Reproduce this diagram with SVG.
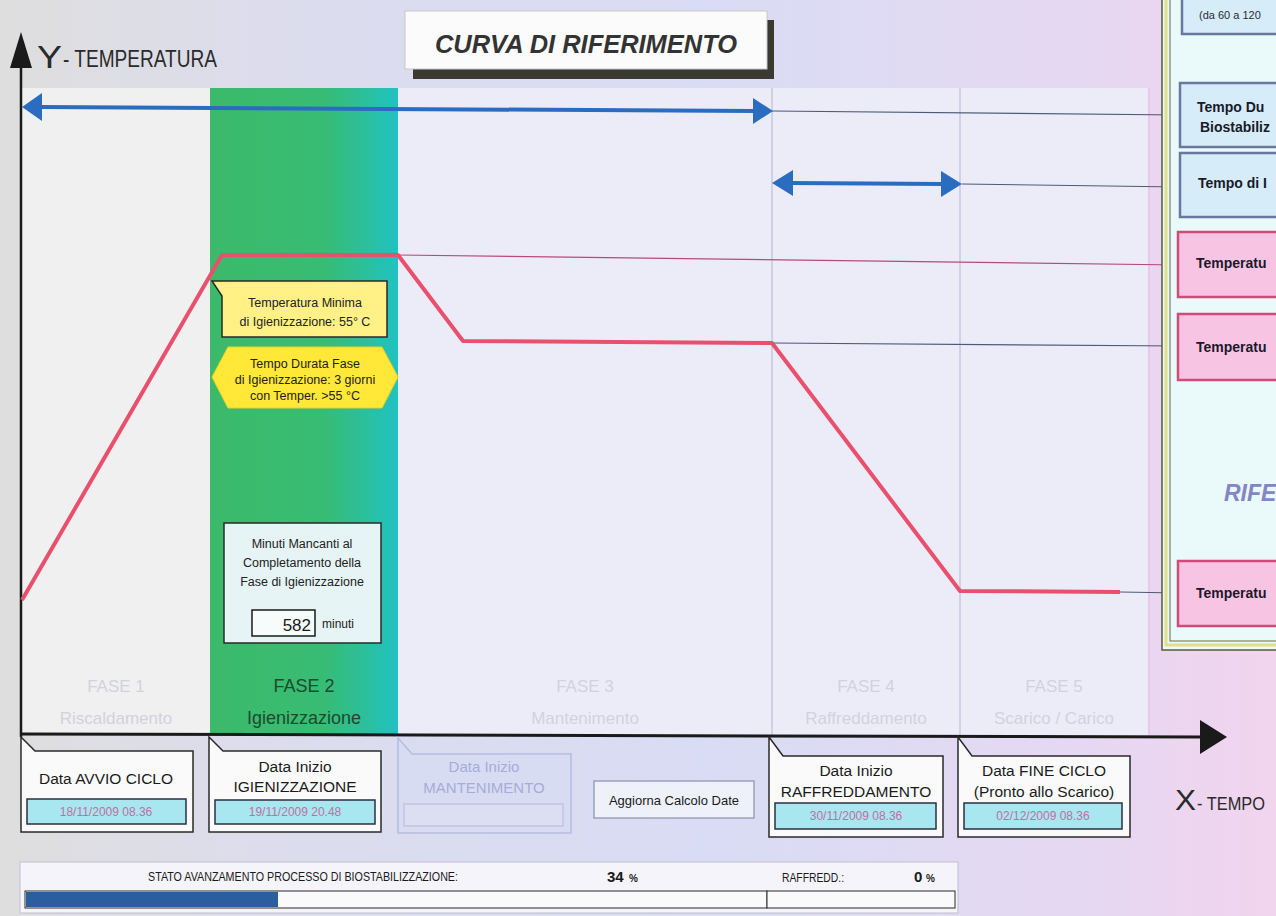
<svg xmlns="http://www.w3.org/2000/svg" width="1276" height="916" viewBox="0 0 1276 916">
<defs>
<linearGradient id="bg" x1="0" y1="0" x2="1" y2="0">
<stop offset="0" stop-color="#dedede"/>
<stop offset="0.2" stop-color="#dcdcec"/>
<stop offset="0.55" stop-color="#d8dcf4"/>
<stop offset="0.85" stop-color="#e6d8f2"/>
<stop offset="1" stop-color="#f2d4ee"/>
</linearGradient>
<linearGradient id="green" x1="0" y1="0" x2="1" y2="0">
<stop offset="0" stop-color="#3cba6a"/>
<stop offset="0.6" stop-color="#38bc74"/>
<stop offset="0.82" stop-color="#2cbf9a"/>
<stop offset="1" stop-color="#1fc2c4"/>
</linearGradient>
<style>
text{font-family:"Liberation Sans",Arial,sans-serif}
.ph{font-size:17px;text-anchor:middle;fill:#d2d2de}
.ph2{font-size:18px;text-anchor:middle;fill:#1c4a2c}
.bx{fill:#fafafa;stroke:#2a2a2a;stroke-width:1.5}
.bxf{fill:#d8dcf2;stroke:#b8bce0;stroke-width:1.5}
.bt{font-size:15.5px;text-anchor:middle;fill:#1a1a1a}
.btf{font-size:15px;text-anchor:middle;fill:#a6acd8}
.df{fill:#a8e6f0;stroke:#2a3040;stroke-width:1.5}
.dt{font-size:12px;text-anchor:middle;fill:#c070a0}
.thin{stroke:#4e5a78;stroke-width:1.2;fill:none}
.red{stroke:#e8506e;stroke-width:4;fill:none;stroke-linejoin:round}
.blue{stroke:#2a6cc0;stroke-width:4;fill:none}
.ah{fill:#2a6cc0}
.pb{fill:#f8c4e4;stroke:#d24a78;stroke-width:2.5}
.bb{fill:#d6ecf8;stroke:#6a78a0;stroke-width:2.5}
.rt{font-size:14px;font-weight:bold;fill:#1a1a2a}
.ct{font-size:12.5px;text-anchor:middle;fill:#222}
</style>
</defs>

<!-- background -->
<rect x="0" y="0" width="1276" height="916" fill="url(#bg)"/>

<!-- chart area -->
<g id="chart">
<rect x="22" y="88" width="188" height="647" fill="#f0f0f0"/>
<rect x="210" y="88" width="188" height="647" fill="url(#green)"/>
<rect x="398" y="88" width="374" height="647" fill="#ececf8"/>
<rect x="772" y="88" width="376" height="647" fill="#ececf8"/>
<line x1="772" y1="88" x2="772" y2="735" stroke="#c8c8dc" stroke-width="1.5"/>
<line x1="960" y1="88" x2="960" y2="735" stroke="#c8c8dc" stroke-width="1.5"/>
<line x1="1149" y1="88" x2="1149" y2="735" stroke="#ecc8e8" stroke-width="2"/>
</g>

<!-- title -->
<g id="title">
<rect x="413" y="20" width="361" height="59" fill="#3a3a32"/>
<rect x="405" y="11" width="362" height="58" fill="#fbfbfb" stroke="#c8c8c8" stroke-width="1"/>
<text x="586" y="53" text-anchor="middle" font-family="DejaVu Sans, sans-serif" font-size="26" font-weight="bold" font-style="italic" fill="#333" textLength="302" lengthAdjust="spacingAndGlyphs">CURVA DI RIFERIMENTO</text>
</g>

<!-- axes -->
<g id="axes">
<line x1="21" y1="60" x2="21" y2="737" stroke="#1a1a1a" stroke-width="2.5"/>
<path d="M21,32 L32,68 L10,68 Z" fill="#1a1a1a"/>
<text x="37" y="68" font-size="31" fill="#2a2a2a" textLength="25" lengthAdjust="spacingAndGlyphs">Y</text>
<text x="63" y="67" font-size="24" fill="#2a2a2a" textLength="154" lengthAdjust="spacingAndGlyphs">- TEMPERATURA</text>
<line x1="20" y1="734" x2="1203" y2="737" stroke="#1a1a1a" stroke-width="3"/>
<path d="M1200,720 L1227,737 L1200,754 Z" fill="#1a1a1a"/>
<text x="1175" y="810" font-size="29" fill="#2a2a2a" textLength="21" lengthAdjust="spacingAndGlyphs">X</text>
<text x="1197" y="810" font-size="19" fill="#2a2a2a" textLength="68" lengthAdjust="spacingAndGlyphs">- TEMPO</text>
</g>

<!-- phase labels -->
<g id="phases">
<text class="ph" x="116" y="692">FASE 1</text>
<text class="ph" x="116" y="724">Riscaldamento</text>
<text class="ph2" x="304" y="692">FASE 2</text>
<text class="ph2" x="304" y="724">Igienizzazione</text>
<text class="ph" x="585" y="692">FASE 3</text>
<text class="ph" x="585" y="724">Mantenimento</text>
<text class="ph" x="866" y="692">FASE 4</text>
<text class="ph" x="866" y="724">Raffreddamento</text>
<text class="ph" x="1054" y="692">FASE 5</text>
<text class="ph" x="1054" y="724">Scarico / Carico</text>
</g>

<!-- connectors -->
<g id="connectors">
<line class="thin" x1="772" y1="111" x2="1180" y2="115"/>
<line class="thin" x1="962" y1="184" x2="1180" y2="187"/>
<line x1="398" y1="255" x2="1180" y2="265" stroke="#b84a78" stroke-width="1.2"/>
<line class="thin" x1="772" y1="343" x2="1180" y2="346"/>
<line class="thin" x1="1120" y1="592" x2="1180" y2="593"/>
<line class="blue" x1="40" y1="107" x2="754" y2="111"/>
<path class="ah" d="M22,107 L42,93 L42,121 Z"/>
<path class="ah" d="M773,111 L753,98 L753,124 Z"/>
<line class="blue" x1="790" y1="183" x2="944" y2="184"/>
<path class="ah" d="M772,183 L793,170 L793,196 Z"/>
<path class="ah" d="M962,184 L941,171 L941,197 Z"/>
<polyline class="red" points="22,600 222,255 398,255 463,341 772,343 960,591 1120,592"/>
</g>

<!-- yellow callout -->
<g id="callout-temp">
<path d="M212,281 L387,281 L387,337 L222,337 L222,296 Z" fill="#fff186" stroke="#2a2a2a" stroke-width="1.5"/>
<text class="ct" x="305" y="307">Temperatura Minima</text>
<text class="ct" x="305" y="326">di Igienizzazione: 55° C</text>
</g>
<g id="callout-time">
<path d="M228,347 L382,347 L398,377 L382,408 L228,408 L212,377 Z" fill="#ffe838" stroke="#f0d020" stroke-width="1"/>
<text class="ct" x="305" y="368">Tempo Durata Fase</text>
<text class="ct" x="305" y="384">di Igienizzazione: 3 giorni</text>
<text class="ct" x="305" y="400">con Temper. &gt;55 °C</text>
</g>

<!-- minuti box -->
<g id="minuti">
<rect x="224" y="523" width="157" height="120" fill="#e6f4f6" stroke="#2a2a2a" stroke-width="1.5"/>
<text x="302" y="548" font-size="12.5" text-anchor="middle" fill="#222">Minuti Mancanti al</text>
<text x="302" y="567" font-size="12.5" text-anchor="middle" fill="#222">Completamento della</text>
<text x="302" y="586" font-size="12.5" text-anchor="middle" fill="#222">Fase di Igienizzazione</text>
<rect x="252" y="610" width="63" height="26" fill="#f6fbfb" stroke="#1a1a1a" stroke-width="1.5"/>
<text x="311" y="631" font-size="17" text-anchor="end" fill="#1a1a1a">582</text>
<text x="322" y="628" font-size="12" fill="#222">minuti</text>
</g>

<!-- bottom date boxes -->
<g id="box-avvio">
<path class="bx" d="M21,737 L35,751 L193,751 L193,832 L21,832 Z"/>
<text class="bt" x="106" y="784" font-size="16.5">Data AVVIO CICLO</text>
<rect class="df" x="27" y="799" width="159" height="25"/>
<text class="dt" x="106" y="816">18/11/2009 08.36</text>
</g>
<g id="box-igien">
<path class="bx" d="M209,737 L223,751 L381,751 L381,832 L209,832 Z"/>
<text class="bt" x="295" y="772">Data Inizio</text>
<text class="bt" x="295" y="792">IGIENIZZAZIONE</text>
<rect class="df" x="215" y="800" width="160" height="24"/>
<text class="dt" x="295" y="816">19/11/2009  20.48</text>
</g>
<g id="box-mant">
<path class="bxf" d="M398,738 L412,754 L571,754 L571,833 L398,833 Z"/>
<text class="btf" x="484" y="772" font-size="13">Data Inizio</text>
<text class="btf" x="484" y="793" font-size="14">MANTENIMENTO</text>
<rect x="404" y="804" width="159" height="22" fill="#dcdef2" stroke="#c0c4e2" stroke-width="1.5"/>
</g>
<g id="btn-aggiorna">
<rect x="594" y="781" width="160" height="37" fill="#eef0fa" stroke="#9aa0c0" stroke-width="1.5"/>
<text x="674" y="805" font-size="13" text-anchor="middle" fill="#1a1a1a">Aggiorna Calcolo Date</text>
</g>
<g id="box-raff">
<path class="bx" d="M769,737 L783,756 L943,756 L943,837 L769,837 Z"/>
<text class="bt" x="856" y="776">Data Inizio</text>
<text class="bt" x="856" y="797">RAFFREDDAMENTO</text>
<rect class="df" x="775" y="803" width="161" height="26"/>
<text class="dt" x="856" y="820">30/11/2009  08.36</text>
</g>
<g id="box-fine">
<path class="bx" d="M958,737 L972,756 L1130,756 L1130,837 L958,837 Z"/>
<text class="bt" x="1044" y="776">Data FINE CICLO</text>
<text class="bt" x="1044" y="797">(Pronto allo Scarico)</text>
<rect class="df" x="964" y="803" width="158" height="26"/>
<text class="dt" x="1043" y="820">02/12/2009  08.36</text>
</g>

<!-- right panel -->
<g id="panel">
<rect x="1162" y="-10" width="130" height="660" fill="#eafafa" stroke="#5a5a3a" stroke-width="1.5"/>
<rect x="1166" y="-10" width="130" height="655" fill="none" stroke="#e0e08a" stroke-width="3"/>
<rect x="1170" y="-10" width="130" height="651" fill="none" stroke="#6a6a4a" stroke-width="1"/>
<rect class="bb" x="1182" y="-10" width="110" height="44"/>
<text x="1199" y="19" font-size="11" fill="#2a2a3a">(da 60 a 120</text>
<rect class="bb" x="1180" y="83" width="110" height="64"/>
<text class="rt" x="1197" y="112">Tempo Du</text>
<text class="rt" x="1200" y="132">Biostabiliz</text>
<rect class="bb" x="1180" y="153" width="110" height="64"/>
<text class="rt" x="1198" y="188">Tempo di I</text>
<rect class="pb" x="1178" y="232" width="112" height="65"/>
<text class="rt" x="1196" y="268">Temperatu</text>
<rect class="pb" x="1178" y="314" width="112" height="66"/>
<text class="rt" x="1196" y="352">Temperatu</text>
<text x="1224" y="501" font-family="DejaVu Sans, sans-serif" font-size="23" font-weight="bold" font-style="italic" fill="#8486c4">RIFE</text>
<rect class="pb" x="1178" y="561" width="112" height="65"/>
<text class="rt" x="1196" y="598">Temperatu</text>
</g>

<!-- progress -->
<g id="progress">
<rect x="20" y="862" width="938" height="51" fill="#f4f4fa" stroke="#c0c0d0" stroke-width="1"/>
<text x="148" y="881" font-size="13" fill="#1a1a1a" textLength="310" lengthAdjust="spacingAndGlyphs">STATO AVANZAMENTO PROCESSO DI BIOSTABILIZZAZIONE:</text>
<text x="607" y="882" font-size="15" font-weight="bold" fill="#1a1a1a">34</text>
<text x="629" y="882" font-size="10" font-weight="bold" fill="#1a1a1a">%</text>
<text x="782" y="882" font-size="13" fill="#1a1a1a" textLength="62" lengthAdjust="spacingAndGlyphs">RAFFREDD.:</text>
<text x="914" y="882" font-size="15" font-weight="bold" fill="#1a1a1a">0</text>
<text x="926" y="882" font-size="10" font-weight="bold" fill="#1a1a1a">%</text>
<rect x="25" y="891" width="742" height="17" fill="#fafafa" stroke="#2a2a2a" stroke-width="1"/>
<rect x="26" y="892" width="252" height="15" fill="#2a5e9e"/>
<rect x="767" y="891" width="188" height="17" fill="#fafafa" stroke="#2a2a2a" stroke-width="1"/>
</g>
</svg>
